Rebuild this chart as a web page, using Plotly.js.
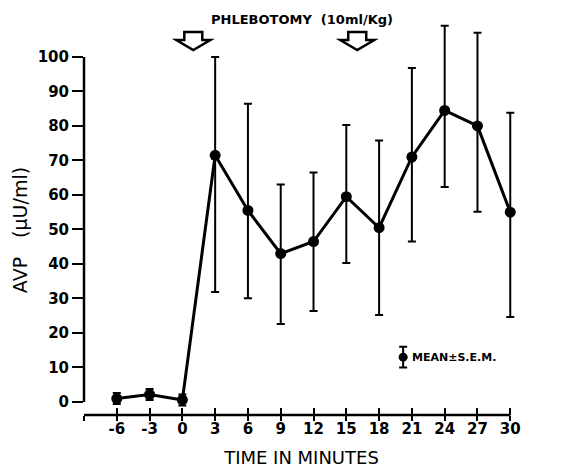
<!DOCTYPE html>
<html>
<head>
<meta charset="utf-8">
<script src="https://cdn.plot.ly/plotly-3.0.1.min.js"></script>
<style>
  html, body { margin: 0; padding: 0; background: #fff; }
  #chart { width: 568px; height: 468px; }
</style>
</head>
<body>
<div id="chart"></div>
<script>
// ---- data ----
const times      = [-6, -3, 0, 3, 6, 9, 12, 15, 18, 21, 24, 27, 30];
const meanAVP    = [1.0, 2.2, 0.6, 71.5, 55.5, 43.0, 46.5, 59.5, 50.5, 71.0, 84.5, 80.0, 55.0];
const semPlus    = [1.6, 1.6, 1.6, 28.5, 30.9, 20.0, 20.0, 20.8, 25.3, 25.8, 24.5, 27.0, 28.8];
const semMinus   = [1.6, 1.6, 1.6, 39.6, 25.4, 20.4, 20.1, 19.2, 25.3, 24.5, 22.2, 24.9, 30.4];
const xTickVals  = [-9, -6, -3, 0, 3, 6, 9, 12, 15, 18, 21, 24, 27, 30];
const xTickText  = ['', '-6', '-3', '0', '3', '6', '9', '12', '15', '18', '21', '24', '27', '30'];
const yTickVals  = [0, 10, 20, 30, 40, 50, 60, 70, 80, 90, 100];
const phlebotomyTimes = [1, 16];
const legendKey  = { x: 20.2, y: 13, err: 3, label: 'MEAN\u00B1S.E.M.' };
const yTitleText = 'AVP\u2002\u2002(\u03BCU/ml)';

const FONT = '"DejaVu Sans", sans-serif';
const X_MIN = -9, X_MAX = 30;

const traces = [
  {
    x: times, y: meanAVP, type: 'scatter', mode: 'lines+markers',
    line: { color: '#000', width: 3 },
    marker: { color: '#000', size: 11 },
    error_y: { type: 'data', symmetric: false, array: semPlus, arrayminus: semMinus,
               color: '#000', thickness: 2, width: 4 },
    cliponaxis: false, showlegend: false, hoverinfo: 'x+y'
  },
  {
    x: [legendKey.x], y: [legendKey.y], type: 'scatter', mode: 'markers',
    marker: { color: '#000', size: 9 },
    error_y: { type: 'data', array: [legendKey.err], color: '#000', thickness: 2, width: 4 },
    cliponaxis: false, showlegend: false, hoverinfo: 'skip'
  },
  { x: [], y: [], xaxis: 'x2', yaxis: 'y', showlegend: false }
];

const arrowPath = 'M-9,0 L9,0 L9,-8 L17,-8 L0,-18 L-17,-8 L-9,-8 Z';
const shapes = [
  { type: 'line', xref: 'paper', yref: 'y', x0: 0, x1: 0, y0: 0, y1: 100,
    line: { color: '#000', width: 2.5 } },
  { type: 'line', xref: 'x', yref: 'paper', x0: X_MIN, x1: X_MAX, y0: 0, y1: 0,
    line: { color: '#000', width: 2.5 } }
].concat(phlebotomyTimes.map(t => ({
  type: 'path', xref: 'x', yref: 'paper', xsizemode: 'pixel', ysizemode: 'pixel',
  xanchor: t, yanchor: 0.9696, path: arrowPath,
  line: { color: '#000', width: 2.5 }, fillcolor: '#fff'
})));

const layout = {
  width: 568, height: 468,
  margin: { l: 84, r: 49, t: 20, b: 53 },
  paper_bgcolor: '#fff', plot_bgcolor: '#fff',
  font: { family: FONT, color: '#000', size: 15 },
  showlegend: false,
  xaxis: {
    range: [X_MIN, 30.8], tickmode: 'array', tickvals: xTickVals, ticktext: xTickText,
    ticks: 'outside', ticklen: 5, tickwidth: 2, tickcolor: '#000', ticklabelstandoff: -5,
    showline: false, showgrid: false, zeroline: false,
    tickfont: { family: FONT, size: 15, weight: 'bold' },
    title: { text: 'TIME IN MINUTES', font: { family: FONT, size: 18 }, standoff: 16 }
  },
  xaxis2: {
    overlaying: 'x', anchor: 'y', range: [X_MIN, 30.8], tickmode: 'array', tickvals: xTickVals,
    ticks: 'inside', ticklen: 7, tickwidth: 2, tickcolor: '#000',
    showticklabels: false, showline: false, showgrid: false, zeroline: false
  },
  yaxis: {
    range: [-3.77, 110.7], tickmode: 'array', tickvals: yTickVals,
    ticks: 'outside', ticklen: 11, tickwidth: 2, tickcolor: '#000',
    showline: false, showgrid: false, zeroline: false,
    tickfont: { family: FONT, size: 15, weight: 'bold' }
  },
  shapes: shapes,
  annotations: [
    { text: yTitleText, textangle: -90, xref: 'paper', yref: 'paper', x: 0, y: 0.468,
      xanchor: 'center', yanchor: 'middle', xshift: -64, showarrow: false,
      font: { family: FONT, size: 19 } },
    { text: 'PHLEBOTOMY  (10ml/Kg)', xref: 'paper', yref: 'paper', x: 0.502, y: 1.0025,
      xanchor: 'center', yanchor: 'middle', showarrow: false,
      font: { family: FONT, size: 13, weight: 'bold' } },
    { text: legendKey.label, xref: 'x', yref: 'y', x: legendKey.x, y: legendKey.y,
      xanchor: 'left', yanchor: 'middle', xshift: 7, showarrow: false,
      font: { family: FONT, size: 11, weight: 'bold' } }
  ]
};

Plotly.newPlot('chart', traces, layout, { displayModeBar: false, staticPlot: true });
</script>
</body>
</html>
